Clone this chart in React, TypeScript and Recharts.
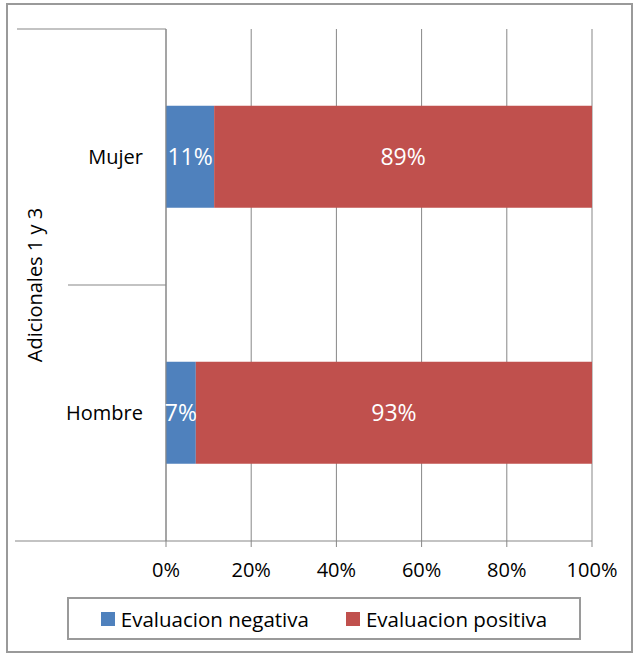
import React from 'react';
import { BarChart, Bar, XAxis, YAxis, CartesianGrid, Legend, LabelList } from 'recharts';

const categories = ['Mujer', 'Hombre'];
const negativa = [11.3, 7.0];
const positiva = [88.7, 93.0];
const xTicks = [0, 20, 40, 60, 80, 100];
const seriesNames = ['Evaluacion negativa', 'Evaluacion positiva'];
const groupLabel = 'Adicionales 1 y 3';

const COLORS = ['#4F81BD', '#C0504D'];
const GRID = '#878787';
const FONT = '"Open Sans", sans-serif';

const data = categories.map((c, i) => ({ cat: c, neg: negativa[i], pos: positiva[i] }));

const pct = (v: any) => `${Math.round(Number(v))}%`;

const CategoryTick = (props: any) => {
  const { x, y, payload, index, height } = props;
  const half = (height || 512) / (2 * categories.length);
  const last = index === categories.length - 1;
  return (
    <g>
      <line x1={index === 0 ? 17 : 68} y1={y - half} x2={x} y2={y - half} stroke={GRID} strokeWidth={1} />
      {last && <line x1={15} y1={y + half} x2={x} y2={y + half} stroke={GRID} strokeWidth={1} />}
      <text x={x - 23} y={y} dy="0.355em" textAnchor="end" fill="#000" fontSize={20} fontFamily={FONT}>
        {payload.value}
      </text>
    </g>
  );
};

const GroupLabel = (props: any) => {
  const vb = props.viewBox || {};
  const cx = (vb.x || 0) + 42;
  const cy = (vb.y || 0) + (vb.height || 0) / 2;
  return (
    <text x={cx} y={cy} textAnchor="middle" transform={`rotate(-90, ${cx}, ${cy})`} fill="#000" fontSize={20} fontFamily={FONT}>
      {groupLabel}
    </text>
  );
};

const LegendContent = () => (
  <div
    style={{
      boxSizing: 'border-box',
      width: '100%',
      height: '100%',
      border: '2px solid #9a9a9a',
      display: 'flex',
      alignItems: 'center',
      justifyContent: 'center',
      fontFamily: FONT,
      fontSize: 20.5,
      color: '#000',
      background: '#fff',
    }}
  >
    {seriesNames.map((n, i) => (
      <span key={n} style={{ display: 'flex', alignItems: 'center', marginLeft: i ? 37 : 0 }}>
        <span style={{ display: 'inline-block', width: 14, height: 14, background: COLORS[i], marginRight: 6 }} />
        <span>{n}</span>
      </span>
    ))}
  </div>
);

export default function App() {
  return (
    <div style={{ position: 'absolute', left: 0, top: 0, width: 633, height: 654, background: '#fff' }}>
      <div
        style={{
          position: 'absolute',
          left: 6,
          top: 3,
          width: 627,
          height: 650,
          boxSizing: 'border-box',
          border: '2px solid #9a9a9a',
        }}
      />
      <div style={{ position: 'absolute', left: 0, top: 0 }}>
        <BarChart
          width={633}
          height={654}
          data={data}
          layout="vertical"
          margin={{ top: 29, right: 41, bottom: 14, left: 0 }}
          barCategoryGap="30%"
        >
          <CartesianGrid horizontal={false} vertical={true} stroke={GRID} />
          <XAxis
            type="number"
            domain={[0, 100]}
            ticks={xTicks}
            tickFormatter={pct}
            height={56}
            tickSize={6}
            tickMargin={16}
            stroke={GRID}
            axisLine={{ stroke: GRID }}
            tickLine={{ stroke: GRID }}
            tick={{ fill: '#000', fontSize: 20, fontFamily: FONT }}
            interval={0}
          />
          <YAxis
            type="category"
            dataKey="cat"
            width={166}
            tickLine={false}
            tickSize={0}
            tickMargin={0}
            axisLine={{ stroke: GRID }}
            tick={<CategoryTick />}
            label={<GroupLabel />}
            interval={0}
          />
          <Legend
            verticalAlign="bottom"
            width={514}
            height={43}
            wrapperStyle={{ left: 67, bottom: 14, width: 514, height: 43 }}
            content={<LegendContent />}
          />
          <Bar dataKey="neg" name={seriesNames[0]} stackId="a" fill={COLORS[0]} isAnimationActive={false}>
            <LabelList dataKey="neg" position="center" formatter={pct} fill="#fff" fontSize={23} fontFamily={FONT} stroke="none" />
          </Bar>
          <Bar dataKey="pos" name={seriesNames[1]} stackId="a" fill={COLORS[1]} isAnimationActive={false}>
            <LabelList dataKey="pos" position="center" formatter={pct} fill="#fff" fontSize={23} fontFamily={FONT} stroke="none" />
          </Bar>
        </BarChart>
      </div>
    </div>
  );
}
